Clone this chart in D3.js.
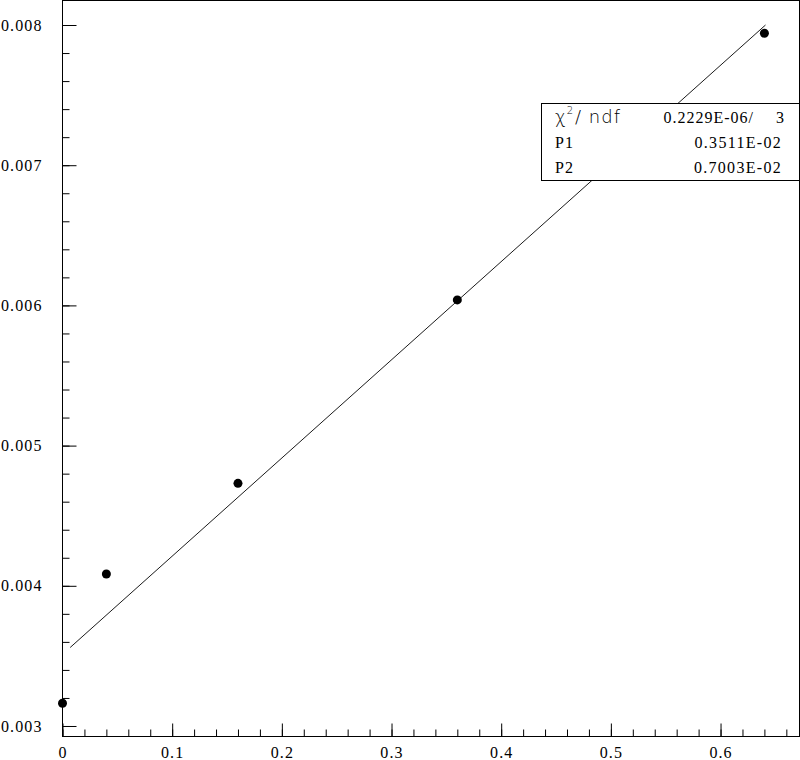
<!DOCTYPE html>
<html>
<head>
<meta charset="utf-8">
<script src="https://cdn.jsdelivr.net/npm/d3@7"></script>
<style>
  html, body { margin: 0; padding: 0; background: #fff; }
  svg { display: block; }
</style>
</head>
<body>
<svg id="chart" width="800" height="760"></svg>
<script>
// ---- data ----
const xValues = [0, 0.04, 0.16, 0.36, 0.64];
const yValues = [0.003162, 0.004084, 0.004731, 0.006039, 0.007941];
const fitP1 = 0.003511;   // intercept
const fitP2 = 0.007003;   // slope
const fitRange = [0.007, 0.641];
const xDomain = [0, 0.672];
const yDomain = [0.0029251, 0.0081748];
const xTickValues = [0, 0.1, 0.2, 0.3, 0.4, 0.5, 0.6];
const yTickValues = [0.003, 0.004, 0.005, 0.006, 0.007, 0.008];
const statsLabels = ["P1", "P2"];
const statsValues = ["0.3511E-02", "0.7003E-02"];
const chi2Value = "0.2229E-06/";
const ndfValue = "3";

// ---- layout ----
const SERIF = "'Liberation Serif', 'Times New Roman', 'DejaVu Serif', serif";
const SANS = "'DejaVu Sans', 'Liberation Sans', sans-serif";
const pLeft = 62.5, pRight = 799.5, pTop = 0.5, pBottom = 736.5;
const svg = d3.select("#chart");
const x = d3.scaleLinear().domain(xDomain).range([pLeft, pRight]);
const y = d3.scaleLinear().domain(yDomain).range([pBottom, pTop]);

// frame
svg.append("rect")
  .attr("x", pLeft).attr("y", pTop)
  .attr("width", pRight - pLeft).attr("height", pBottom - pTop)
  .attr("fill", "none").attr("stroke", "#000").attr("stroke-width", 1);

// minor ticks
const xMinor = d3.range(0, 0.661, 0.02).map(v => +v.toFixed(2));
const yMinor = d3.range(0.003, 0.00821, 0.0002).map(v => +v.toFixed(4));

svg.append("g").attr("transform", `translate(0,${pBottom})`)
  .call(d3.axisBottom(x).tickValues(xMinor).tickSize(-7).tickFormat(""))
  .call(g => g.select(".domain").remove());
svg.append("g").attr("transform", `translate(${pLeft},0)`)
  .call(d3.axisLeft(y).tickValues(yMinor).tickSize(-7).tickFormat(""))
  .call(g => g.select(".domain").remove());

// major ticks + labels
const xAxis = svg.append("g").attr("transform", `translate(0,${pBottom})`)
  .call(d3.axisBottom(x).tickValues(xTickValues).tickSize(-13).tickPadding(10)
    .tickFormat(d => d === 0 ? "0" : d3.format(".1f")(d)));
xAxis.select(".domain").remove();

const yAxis = svg.append("g").attr("transform", `translate(${pLeft},0)`)
  .call(d3.axisLeft(y).tickValues(yTickValues).tickSize(-14).tickPadding(20)
    .tickFormat(d3.format(".3f")));
yAxis.select(".domain").remove();

svg.selectAll(".tick line").attr("stroke", "#000");
svg.selectAll("g").attr("font-family", null);
svg.selectAll(".tick text")
  .style("font-family", SERIF)
  .attr("font-size", 16)
  .attr("letter-spacing", "1.1px")
  .attr("fill", "#000");

// fit line
const fitLine = d3.line().x(d => x(d)).y(d => y(fitP1 + fitP2 * d));
svg.append("path")
  .datum(fitRange)
  .attr("d", fitLine)
  .attr("fill", "none").attr("stroke", "#000").attr("stroke-width", 0.9);

// points
svg.append("g").selectAll("circle")
  .data(xValues.map((v, i) => [v, yValues[i]]))
  .join("circle")
  .attr("cx", d => x(d[0])).attr("cy", d => y(d[1]))
  .attr("r", 4.5).attr("fill", "#000");

// stats box
const bx = 541.5, by = 103.5, bw = pRight - bx, bh = 77;
const box = svg.append("g");
box.append("rect").attr("x", bx).attr("y", by).attr("width", bw).attr("height", bh)
  .attr("fill", "#fff").attr("stroke", "#000").attr("stroke-width", 1);

const t1 = box.append("text").attr("x", 555).attr("y", 123)
  .style("font-family", SANS).attr("font-weight", 200)
  .attr("font-size", 18).attr("letter-spacing", "1px").attr("fill", "#000");
t1.append("tspan").text("χ");
t1.append("tspan").attr("font-size", 10).attr("dy", -9).text("2");
t1.append("tspan").attr("dy", 9).attr("dx", 1).text("/ ndf");

box.append("text").style("font-family", SERIF).attr("x", 754).attr("y", 123)
  .attr("text-anchor", "end").attr("font-size", 16).attr("letter-spacing", "1px")
  .text(chi2Value);
box.append("text").style("font-family", SERIF).attr("x", 784).attr("y", 123)
  .attr("text-anchor", "end").attr("font-size", 16).text(ndfValue);

statsLabels.forEach((lab, i) => {
  const yy = 148 + i * 25;
  box.append("text").style("font-family", SERIF).attr("x", 555).attr("y", yy)
    .attr("font-size", 16).attr("letter-spacing", "1px").text(lab);
  box.append("text").style("font-family", SERIF).attr("x", 782).attr("y", yy)
    .attr("text-anchor", "end").attr("font-size", 16).attr("letter-spacing", "1.3px")
    .text(statsValues[i]);
});
</script>
</body>
</html>
